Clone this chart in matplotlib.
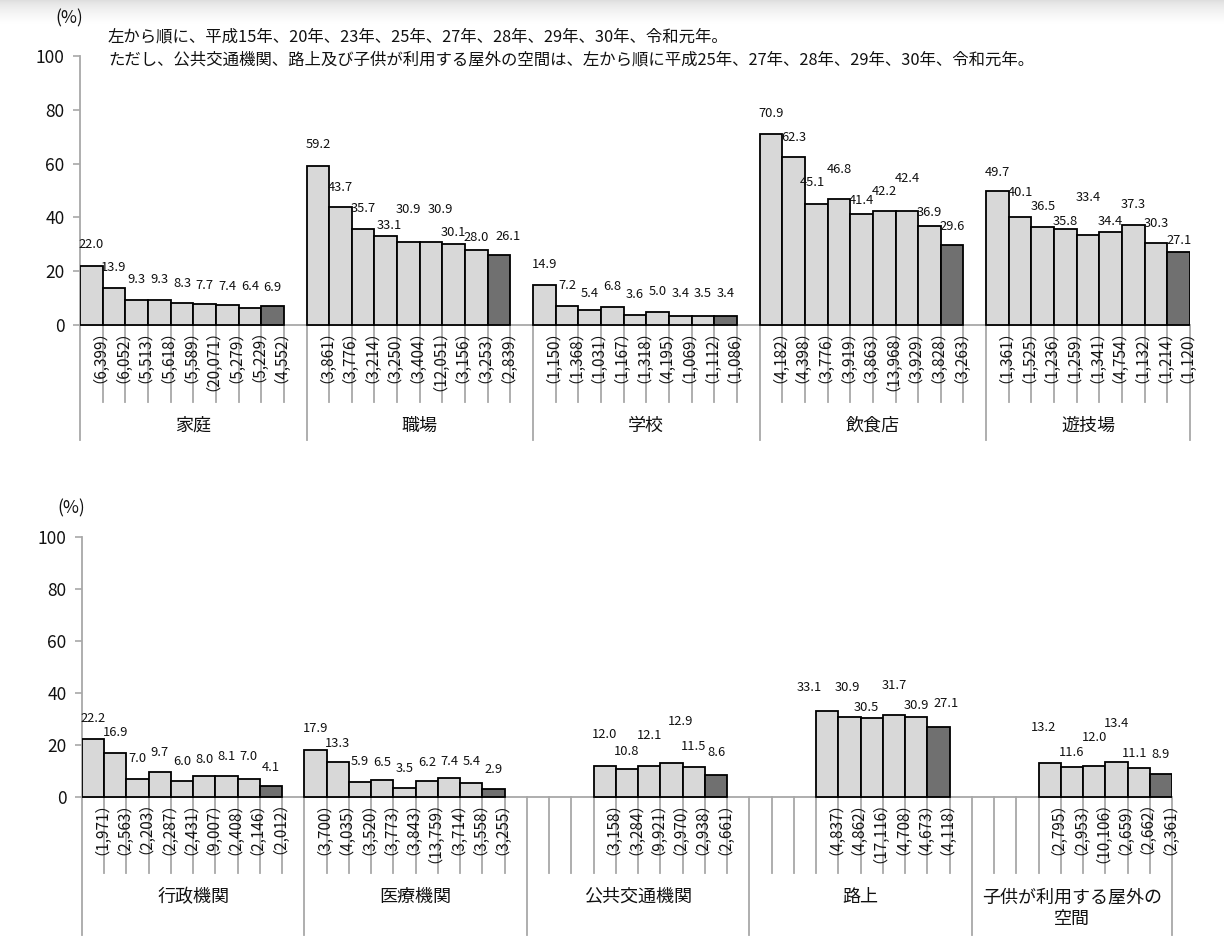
import matplotlib
matplotlib.use("Agg")
import matplotlib.pyplot as plt
import numpy as np

plt.rcParams['font.family'] = ['Noto Sans CJK JP', 'DejaVu Sans']

# ---------------- data ----------------
top_categories = ["家庭", "職場", "学校", "飲食店", "遊技場"]
top_values = [
    [22.0, 13.9, 9.3, 9.3, 8.3, 7.7, 7.4, 6.4, 6.9],
    [59.2, 43.7, 35.7, 33.1, 30.9, 30.9, 30.1, 28.0, 26.1],
    [14.9, 7.2, 5.4, 6.8, 3.6, 5.0, 3.4, 3.5, 3.4],
    [70.9, 62.3, 45.1, 46.8, 41.4, 42.2, 42.4, 36.9, 29.6],
    [49.7, 40.1, 36.5, 35.8, 33.4, 34.4, 37.3, 30.3, 27.1],
]
top_n = [
    ["6,399", "6,052", "5,513", "5,618", "5,589", "20,071", "5,279", "5,229", "4,552"],
    ["3,861", "3,776", "3,214", "3,250", "3,404", "12,051", "3,156", "3,253", "2,839"],
    ["1,150", "1,368", "1,031", "1,167", "1,318", "4,195", "1,069", "1,112", "1,086"],
    ["4,182", "4,398", "3,776", "3,919", "3,863", "13,968", "3,929", "3,828", "3,263"],
    ["1,361", "1,525", "1,236", "1,259", "1,341", "4,754", "1,132", "1,214", "1,120"],
]

bottom_categories = ["行政機関", "医療機関", "公共交通機関", "路上", "子供が利用する屋外の\n空間"]
bottom_values = [
    [22.2, 16.9, 7.0, 9.7, 6.0, 8.0, 8.1, 7.0, 4.1],
    [17.9, 13.3, 5.9, 6.5, 3.5, 6.2, 7.4, 5.4, 2.9],
    [12.0, 10.8, 12.1, 12.9, 11.5, 8.6],
    [33.1, 30.9, 30.5, 31.7, 30.9, 27.1],
    [13.2, 11.6, 12.0, 13.4, 11.1, 8.9],
]
bottom_n = [
    ["1,971", "2,563", "2,203", "2,287", "2,431", "9,007", "2,408", "2,146", "2,012"],
    ["3,700", "4,035", "3,520", "3,773", "3,843", "13,759", "3,714", "3,558", "3,255"],
    ["3,158", "3,284", "9,921", "2,970", "2,938", "2,661"],
    ["4,837", "4,862", "17,116", "4,708", "4,673", "4,118"],
    ["2,795", "2,953", "10,106", "2,659", "2,662", "2,361"],
]

note_line1 = "左から順に、平成15年、20年、23年、25年、27年、28年、29年、30年、令和元年。"
note_line2 = "ただし、公共交通機関、路上及び子供が利用する屋外の空間は、左から順に平成25年、27年、28年、29年、30年、令和元年。"
yticks = [0, 20, 40, 60, 80, 100]

# label placement tweaks (pixels above bar top / horizontal shift)
top_label_dy = [
    [21, 20, 20, 20, 19, 19, 19, 21, 19],
    [21, 20, 20, 10, 32, 32, 12, 12, 18],
    [20, 20, 17, 20, 21, 20, 22, 22, 22],
    [21, 20, 21, 30, 13, 20, 32, 13, 19],
    [19, 25, 20, 7, 38, 11, 20, 20, 12],
]
top_label_dx = [
    [0] * 9,
    [0, 0, 0, 3, 0, 9, 0, 0, 9],
    [0] * 9,
    [0, 0, -4, 0, 0, 0, 0, 0, 0],
    [0] * 9,
]
bottom_label_dy = [
    [21, 21, 20, 19, 20, 17, 19, 22, 19],
    [22, 19, 20, 18, 19, 18, 16, 21, 20],
    [31, 17, 30, 42, 21, 22],
    [23, 29, 10, 29, 11, 23],
    [35, 14, 28, 39, 15, 19],
]
bottom_label_dx = [
    [0] * 9, [0] * 9,
    [0, 0, 0, 9, 0, 0],
    [-18, -2, -5, 0, 0, 8],
    [-6, 0, 0, 0, -4, 0],
]

# ---------------- style ----------------
W, H = 1224, 936
DPI = 100
PX = 72.0 / DPI  # points per pixel
LIGHT = "#d8d8d8"
DARK = "#707070"
LINE = "#a8a8a8"
TXT = "#111111"
NSLOTS = 49

fig = plt.figure(figsize=(W / DPI, H / DPI), dpi=DPI)

# top gradient shadow
gax = fig.add_axes([0, 1 - 24 / H, 1, 24 / H])
grad = np.linspace(0, 1, 64) ** 0.6
grad = 0.86 + 0.14 * grad
gax.imshow(grad[:, None] * np.ones((1, 4)), cmap="gray", vmin=0, vmax=1,
           aspect="auto", extent=[0, 1, 0, 1], origin="upper")
gax.axis("off")


def make_panel(ax, values, ns, cats, dys, dxs, short_px, cat_px, offsets):
    ax.set_xlim(0, NSLOTS)
    for s in ["top", "right", "bottom"]:
        ax.spines[s].set_visible(False)
    ax.spines["left"].set_color(LINE)
    ax.spines["left"].set_linewidth(1.3)
    ax.set_yticks(yticks)
    ax.set_yticklabels([str(t) for t in yticks], fontsize=12.5, color=TXT)
    ax.tick_params(axis="y", direction="out", length=5, width=1.2, color=LINE, pad=6)
    ax.set_xticks([])
    ax.axhline(0, color=LINE, lw=1.3, zorder=1)

    ymin = ax.get_ylim()[0]
    bbox = ax.get_position()
    ppu = (bbox.height * H) / (100 - ymin)
    short_y = -short_px / ppu
    long_bounds = [0, 10, 20, 30, 40, NSLOTS]
    for b in range(1, NSLOTS + 1):
        bottom = ymin if b in long_bounds else short_y
        ax.plot([b, b], [0, bottom], color=LINE, lw=1.3, zorder=1, clip_on=False)

    for g, (vals, nlist) in enumerate(zip(values, ns)):
        start = 10 * g + offsets[g]
        xs = np.arange(len(vals)) + start + 0.5
        colors = [LIGHT] * (len(vals) - 1) + [DARK]
        ax.bar(xs, vals, width=1.0, color=colors, edgecolor="black",
               linewidth=1.3, zorder=3)
        for i, (x, v, n) in enumerate(zip(xs, vals, nlist)):
            ax.annotate(f"{v:.1f}", xy=(x, v),
                        xytext=(dxs[g][i] * PX, dys[g][i] * PX),
                        textcoords="offset points", ha="center", va="center",
                        fontsize=9.3, color=TXT, zorder=4)
            ax.annotate(f"（{n}）", xy=(x, 0), xytext=(0.5 * PX, 11 * PX),
                        textcoords="offset points", ha="center", va="top",
                        rotation=90, fontsize=11, color=TXT)
        right = min(10 * g + 10, NSLOTS)
        cx = (10 * g + right) / 2
        ax.annotate(cats[g], xy=(cx, 0), xytext=(0, -cat_px * PX),
                    textcoords="offset points", ha="center", va="top",
                    fontsize=13, color=TXT, linespacing=1.3)


# top panel: 100 at y=56px, bottom at 440px, 0 at 325px
t_top, t_zero, t_bot = 56, 325, 440
ppu_t = (t_zero - t_top) / 100
ax1 = fig.add_axes([80 / W, 1 - t_bot / H, (1190 - 80) / W, (t_bot - t_top) / H])
ax1.set_ylim(-(t_bot - t_zero) / ppu_t, 100)
make_panel(ax1, top_values, top_n, top_categories, top_label_dy, top_label_dx,
           short_px=77, cat_px=92, offsets=[0, 0, 0, 0, 0])

# bottom panel: 100 at 537px, 0 at 797px, bottom at 935px
b_top, b_zero, b_bot = 537, 797, 935
ppu_b = (b_zero - b_top) / 100
ax2 = fig.add_axes([82 / W, 1 - b_bot / H, (1172 - 82) / W, (b_bot - b_top) / H])
ax2.set_ylim(-(b_bot - b_zero) / ppu_b, 100)
make_panel(ax2, bottom_values, bottom_n, bottom_categories, bottom_label_dy,
           bottom_label_dx, short_px=76, cat_px=91, offsets=[0, 0, 3, 3, 3])

# texts
fig.text(69 / W, 1 - 18 / H, "(%)", ha="center", va="center", fontsize=12.5, color=TXT)
fig.text(71 / W, 1 - 508 / H, "(%)", ha="center", va="center", fontsize=12.5, color=TXT)
fig.text(108 / W, 1 - 37 / H, note_line1, ha="left", va="center", fontsize=11.8, color=TXT)
fig.text(108 / W, 1 - 60 / H, note_line2, ha="left", va="center", fontsize=11.8, color=TXT)

fig.savefig("out.png", dpi=DPI, facecolor="white")
